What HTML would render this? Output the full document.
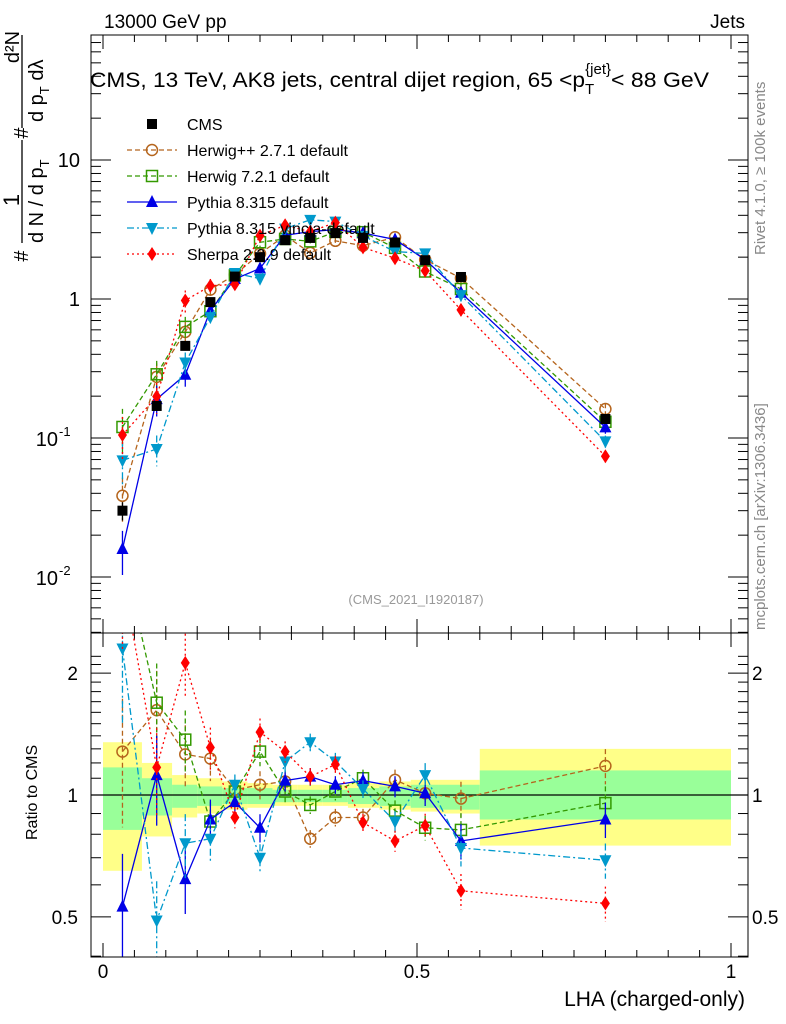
<!DOCTYPE html>
<html><head><meta charset="utf-8"><style>
body{margin:0;background:#fff;}
svg{display:block;font-family:"Liberation Sans",sans-serif;}
</style></head><body>
<svg id="chart" width="786" height="1024" viewBox="0 0 786 1024" xmlns="http://www.w3.org/2000/svg">
<defs>
<clipPath id="cm"><rect x="91" y="35" width="657" height="598"/></clipPath>
<clipPath id="cr"><rect x="91" y="633" width="657" height="324"/></clipPath>
</defs>
<g id="bands" clip-path="url(#cr)"></g>
<g id="grid"></g>
<g id="series"></g>
<rect x="91" y="35" width="657" height="598" fill="none" stroke="#000" stroke-width="1"/>
<rect x="91" y="633" width="657" height="324" fill="none" stroke="#000" stroke-width="1"/>
<text x="104" y="28" font-size="19">13000 GeV pp</text>
<text x="745" y="28" font-size="19" text-anchor="end">Jets</text>
<text x="90" y="87" font-size="21"><tspan textLength="495" lengthAdjust="spacingAndGlyphs">CMS, 13 TeV, AK8 jets, central dijet region, 65 &lt;p</tspan><tspan font-size="15" dy="7">T</tspan><tspan font-size="15" dy="-20" dx="-9">{jet}</tspan><tspan dy="13" textLength="98" lengthAdjust="spacingAndGlyphs">&lt; 88 GeV</tspan></text>
<text x="416" y="604" font-size="13" fill="#999" text-anchor="middle">(CMS_2021_I1920187)</text>
<text transform="translate(765,255) rotate(-90)" font-size="15" fill="#888">Rivet 4.1.0, ≥ 100k events</text>
<text transform="translate(765,630) rotate(-90)" font-size="15" fill="#888">mcplots.cern.ch [arXiv:1306.3436]</text>
<g font-size="20">
<text transform="translate(28,256) rotate(-90)" text-anchor="middle">#</text>
<text transform="translate(19,200) rotate(-90)" text-anchor="middle" font-size="22">1</text>
<line x1="22" y1="243" x2="22" y2="140" stroke="#000" stroke-width="1.3"/>
<text transform="translate(43,243) rotate(-90)">d N / d p<tspan font-size="13" dy="6">T</tspan></text>
<text transform="translate(28,133) rotate(-90)" text-anchor="middle">#</text>
<line x1="22" y1="128" x2="22" y2="35" stroke="#000" stroke-width="1.3"/>
<text transform="translate(19,47) rotate(-90)" text-anchor="middle">d²N</text>
<text transform="translate(43,122) rotate(-90)">d p<tspan font-size="13" dy="6">T</tspan><tspan dy="-6"> dλ</tspan></text>
</g>
<text transform="translate(37,840) rotate(-90)" font-size="16">Ratio to CMS</text>
<text x="745" y="1006" font-size="21" text-anchor="end">LHA (charged-only)</text>
<g id="legend"></g>
</svg>
<script>
const binCenters=[0.031,0.0855,0.131,0.171,0.21,0.25,0.29,0.33,0.37,0.414,0.465,0.513,0.57,0.8];
const binEdges=[0,0.062,0.11,0.15,0.19,0.23,0.27,0.31,0.35,0.39,0.44,0.49,0.535,0.6,1.0];
const cmsValues=[0.030,0.17,0.46,0.95,1.45,2.0,2.65,2.75,2.98,2.75,2.55,1.9,1.44,0.137];
const cmsErr=[0.15,0.08,0.05,0.04,0.03,0.03,0.03,0.03,0.03,0.03,0.03,0.04,0.04,0.06];
const ratioHerwigPP=[1.28,1.62,1.26,1.23,1.03,1.06,1.08,0.78,0.88,0.88,1.09,1.01,0.98,1.18];
const ratioHerwig7=[4.0,1.69,1.37,0.86,1.02,1.28,1.02,0.945,1.02,1.1,0.915,0.83,0.82,0.955];
const ratioPythia=[0.53,1.12,0.62,0.87,0.96,0.83,1.085,1.11,1.06,1.085,1.05,1.01,0.77,0.87];
const ratioVincia=[2.3,0.49,0.76,0.78,1.06,0.70,1.21,1.35,1.21,1.035,0.86,1.12,0.74,0.69];
const ratioSherpa=[3.5,1.17,2.12,1.31,0.88,1.43,1.28,1.11,1.19,0.855,0.77,0.84,0.58,0.54];
const mcRelErr=[0.35,0.25,0.18,0.12,0.06,0.08,0.06,0.05,0.05,0.05,0.06,0.07,0.1,0.1];
const yellowHi=[1.35,1.2,1.12,1.1,1.08,1.07,1.06,1.06,1.06,1.07,1.08,1.09,1.09,1.3];
const yellowLo=[0.65,0.79,0.88,0.9,0.92,0.93,0.94,0.94,0.94,0.93,0.92,0.91,0.9,0.75];
const greenHi=[1.17,1.1,1.06,1.05,1.04,1.04,1.03,1.03,1.03,1.04,1.05,1.06,1.06,1.15];
const greenLo=[0.82,0.89,0.93,0.94,0.95,0.95,0.96,0.96,0.96,0.95,0.94,0.93,0.92,0.87];
const xTicks=[0,0.5,1];
const xTickLabels=["0","0.5","1"];
const ratioTicks=[0.5,1,2];
const ratioTickLabels=["0.5","1","2"];

const NS="http://www.w3.org/2000/svg";
const X=v=>103+v*628;
const YM=v=>299-139*Math.log10(v);
const YR=r=>795-405*Math.log10(r);
function el(tag,attrs,parent){const e=document.createElementNS(NS,tag);for(const k in attrs)e.setAttribute(k,attrs[k]);parent.appendChild(e);return e;}
const svg=document.getElementById('chart');
const grid=document.getElementById('grid');
const bands=document.getElementById('bands');
const seriesG=document.getElementById('series');

for(let i=0;i<binCenters.length;i++){
  const x0=X(binEdges[i]),x1=X(binEdges[i+1]);
  const y=el('rect',{x:x0,y:YR(yellowHi[i]),width:x1-x0,height:YR(yellowLo[i])-YR(yellowHi[i]),fill:'#ffff88'},bands);
  
  
  const g=el('rect',{x:x0,y:YR(greenHi[i]),width:x1-x0,height:YR(greenLo[i])-YR(greenHi[i]),fill:'#99ff99'},bands);
  
  
}
const one=el('line',{x1:91,x2:748,y1:YR(1),y2:YR(1),stroke:'#000','stroke-width':1.2},grid);



for(let k=0;k<=20;k++){
  const v=k*0.05,x=X(v),major=(k%10===0),L=major?14:7;
  [[35,1],[633,-1],[633,1],[957,-1]].forEach(([y,d])=>{
    el('line',{x1:x,x2:x,y1:y,y2:y+d*L,stroke:'#000'},grid);
  });
}
xTicks.forEach((v,i)=>{
  const t=el('text',{x:X(v),y:978,'font-size':19,'text-anchor':'middle'},svg);
  t.textContent=xTickLabels[i];
  
  
});
for(let d=-3;d<=1;d++){
  for(let m=1;m<10;m++){
    const v=m*Math.pow(10,d),y=YM(v);
    if(y<35||y>633)continue;
    const L=m===1?20:10;
    el('line',{x1:91,x2:91+L,y1:y,y2:y,stroke:'#000'},grid);
    el('line',{x1:748,x2:748-L,y1:y,y2:y,stroke:'#000'},grid);
  }
}
[[10,"10"],[1,"1"]].forEach(([v,s])=>{
  const t=el('text',{x:80,y:YM(v)+7,'font-size':20,'text-anchor':'end'},svg);
  t.textContent=s;
  
  
});
[[0.1,"-1"],[0.01,"-2"]].forEach(([v,s])=>{
  const t=el('text',{x:58,y:YM(v)+8,'font-size':20,'text-anchor':'end'},svg);
  t.textContent='10';
  
  
  const e=el('text',{x:59,y:YM(v)-2,'font-size':13},svg);
  e.textContent=s;
  
  
});
for(let r=0.4;r<=2.3;r+=0.1){
  const y=YR(r);if(y<633||y>957)continue;
  const major=Math.abs(r-0.5)<1e-6||Math.abs(r-1)<1e-6||Math.abs(r-2)<1e-6;
  const L=major?20:10;
  el('line',{x1:91,x2:91+L,y1:y,y2:y,stroke:'#000'},grid);
  el('line',{x1:748,x2:748-L,y1:y,y2:y,stroke:'#000'},grid);
}
ratioTicks.forEach((v,i)=>{
  const t=el('text',{x:78,y:YR(v)+7,'font-size':19,'text-anchor':'end'},svg);
  t.textContent=ratioTickLabels[i];
  
  
  const t2=el('text',{x:752,y:YR(v)+7,'font-size':19},svg);
  t2.textContent=ratioTickLabels[i];
  
  
});

function marker(type,x,y,color,parent){
  let m;
  if(type==='square') m=el('rect',{x:x-5,y:y-5,width:10,height:10,fill:'#000'},parent);
  else if(type==='circle') m=el('circle',{cx:x,cy:y,r:5.5,fill:'none',stroke:color,'stroke-width':1.5},parent);
  else if(type==='osquare') m=el('rect',{x:x-5.5,y:y-5.5,width:11,height:11,fill:'none',stroke:color,'stroke-width':1.5},parent);
  else if(type==='up') m=el('polygon',{points:`${x},${y-7} ${x-6},${y+5} ${x+6},${y+5}`,fill:color},parent);
  else if(type==='down') m=el('polygon',{points:`${x},${y+7} ${x-6},${y-5} ${x+6},${y-5}`,fill:color},parent);
  else m=el('polygon',{points:`${x},${y-7} ${x-4.5},${y} ${x},${y+7} ${x+4.5},${y}`,fill:color},parent);
  return m;
}
const series=[
 {name:'Herwig++ 2.7.1 default',ratio:ratioHerwigPP,color:'#b5651d',dash:'5,3',mk:'circle',key:'herwigpp'},
 {name:'Herwig 7.2.1 default',ratio:ratioHerwig7,color:'#339900',dash:'5,3',mk:'osquare',key:'herwig7'},
 {name:'Pythia 8.315 default',ratio:ratioPythia,color:'#0000e6',dash:'',mk:'up',key:'pythia'},
 {name:'Pythia 8.315 vincia-default',ratio:ratioVincia,color:'#0099cc',dash:'7,3,2,3',mk:'down',key:'vincia'},
 {name:'Sherpa 2.2.9 default',ratio:ratioSherpa,color:'#ff0000',dash:'2,3',mk:'diamond',key:'sherpa'}
];
series.forEach(s=>{
  const gm=el('g',{'clip-path':'url(#cm)'},seriesG);
  
  
  const gr=el('g',{'clip-path':'url(#cr)'},seriesG);
  
  
  const vals=cmsValues.map((c,i)=>c*s.ratio[i]);
  const pm=binCenters.map((c,i)=>X(c)+','+YM(vals[i])).join(' ');
  const pr=binCenters.map((c,i)=>X(c)+','+YR(s.ratio[i])).join(' ');
  el('polyline',{points:pm,fill:'none',stroke:s.color,'stroke-width':1.3,'stroke-dasharray':s.dash},gm);
  el('polyline',{points:pr,fill:'none',stroke:s.color,'stroke-width':1.3,'stroke-dasharray':s.dash},gr);
  binCenters.forEach((c,i)=>{
    const x=X(c),e=mcRelErr[i];
    el('line',{x1:x,x2:x,y1:YM(vals[i]*(1+e)),y2:YM(vals[i]*Math.max(1-e,0.01)),stroke:s.color,'stroke-width':1.3,'stroke-dasharray':s.dash},gm);
    el('line',{x1:x,x2:x,y1:YR(s.ratio[i]*(1+e)),y2:YR(s.ratio[i]*Math.max(1-e,0.01)),stroke:s.color,'stroke-width':1.3,'stroke-dasharray':s.dash},gr);
    const m1=marker(s.mk,x,YM(vals[i]),s.color,gm);
    
    
    const m2=marker(s.mk,x,YR(s.ratio[i]),s.color,gr);
    
    
  });
});
const gc=el('g',{'clip-path':'url(#cm)'},seriesG);


binCenters.forEach((c,i)=>{
  const x=X(c),v=cmsValues[i];
  el('line',{x1:x,x2:x,y1:YM(v*(1+cmsErr[i])),y2:YM(v*(1-cmsErr[i])),stroke:'#000','stroke-width':1.3},gc);
  const m=marker('square',x,YM(v),'#000',gc);
  
  
});
const leg=document.getElementById('legend');
const entries=[{name:'CMS',mk:'square',color:'#000',dash:null,key:'cms'}].concat(series);
entries.forEach((s,i)=>{
  const y=124+i*26;
  const g=el('g',{},leg);
  
  
  if(s.dash!==null) el('line',{x1:127,x2:177,y1:y,y2:y,stroke:s.color,'stroke-width':1.3,'stroke-dasharray':s.dash},g);
  marker(s.mk,152,y,s.color,g);
  const t=el('text',{x:187,y:y+6,'font-size':16},g);
  t.textContent=s.name;
});
</script>
</body></html>
